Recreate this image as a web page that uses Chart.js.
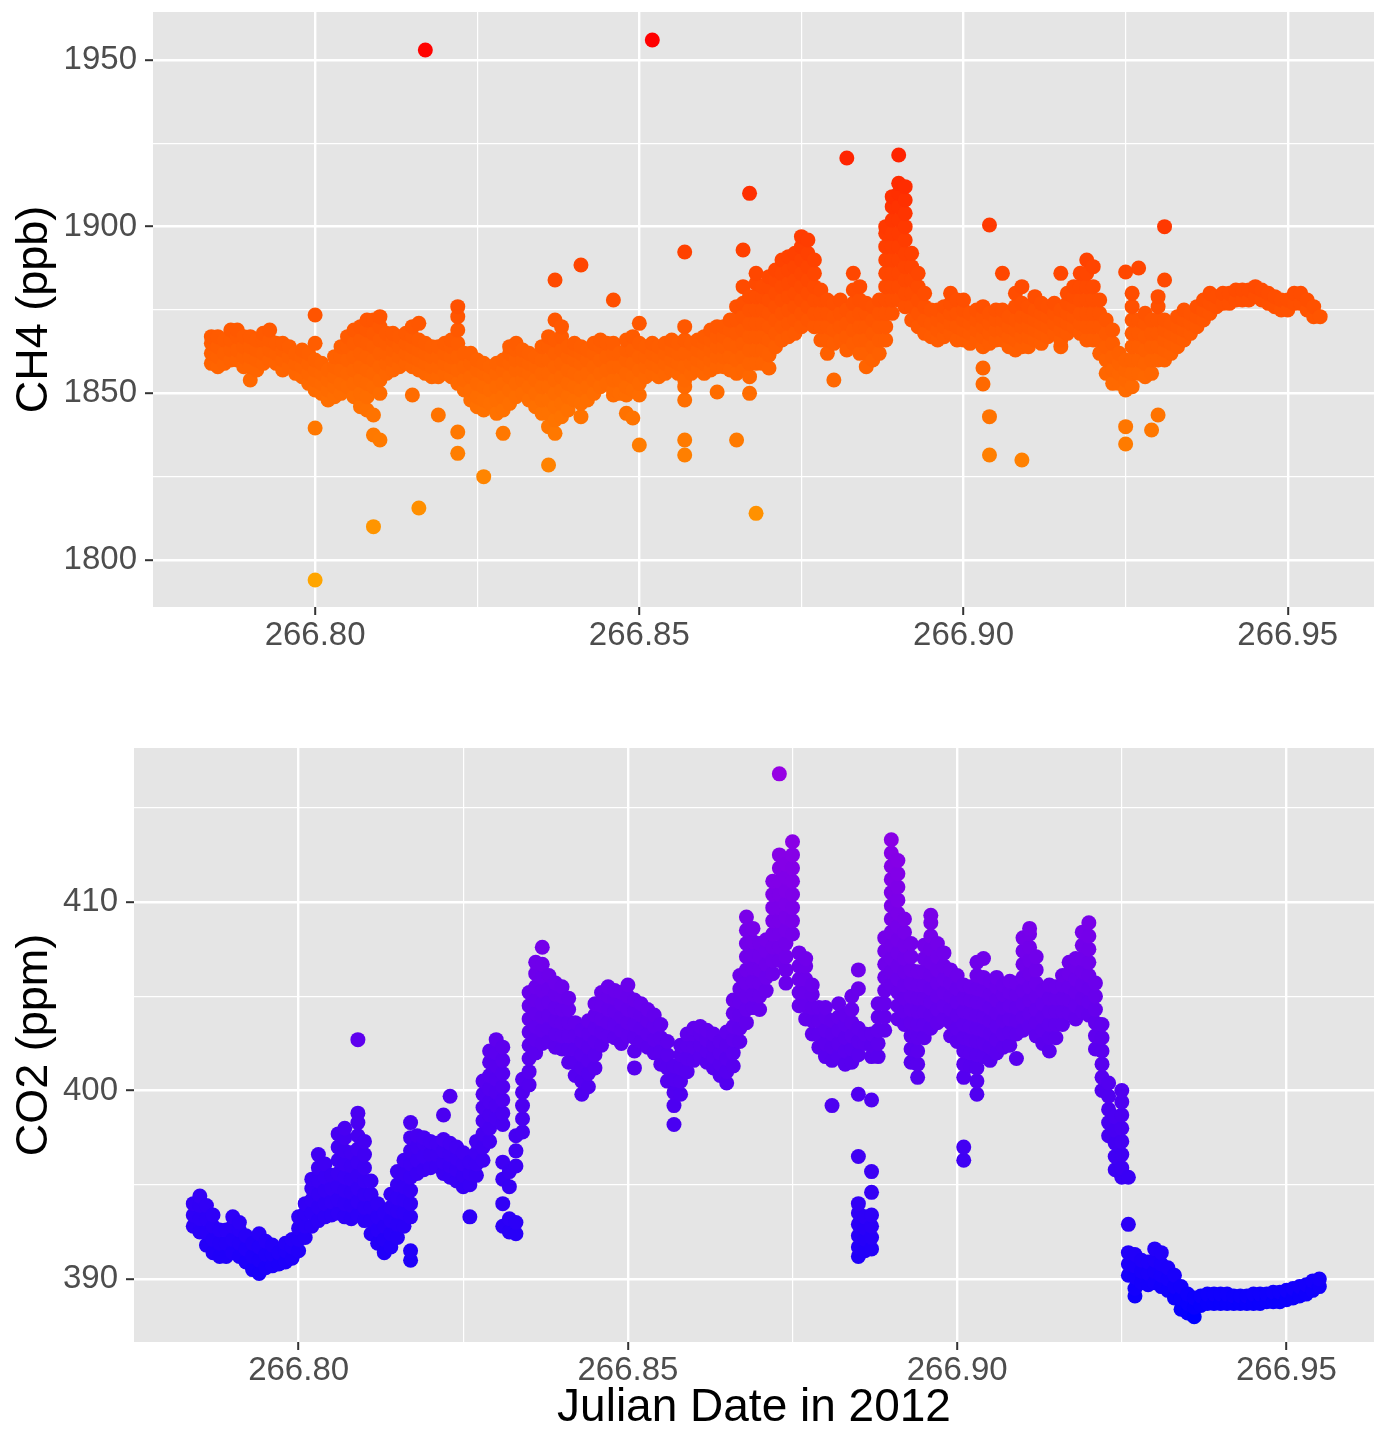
<!DOCTYPE html>
<html>
<head>
<meta charset="utf-8">
<title>CH4 and CO2 vs Julian date</title>
<script src="https://cdn.jsdelivr.net/npm/chart.js@4.4.1/dist/chart.umd.min.js"></script>
<style>
  html, body { margin: 0; padding: 0; background: #ffffff; overflow: hidden; }
  canvas { position: absolute; left: 0; display: block; }
  #ch4Chart { top: 0; }
  #co2Chart { top: 715px; }
</style>
</head>
<body>
<canvas id="ch4Chart" width="1374" height="715"></canvas>
<canvas id="co2Chart" width="1374" height="716"></canvas>
<script>
// sample times (shared by both gases)
var julianDay = [
  266.784, 266.785, 266.786, 266.787, 266.788, 266.789, 266.790, 266.791, 266.792, 266.793,
  266.794, 266.795, 266.796, 266.797, 266.798, 266.799, 266.800, 266.801, 266.802, 266.803,
  266.804, 266.805, 266.806, 266.807, 266.808, 266.809, 266.810, 266.811, 266.812, 266.813,
  266.814, 266.815, 266.816, 266.817, 266.818, 266.819, 266.820, 266.821, 266.822, 266.823,
  266.824, 266.825, 266.826, 266.827, 266.828, 266.829, 266.830, 266.831, 266.832, 266.833,
  266.834, 266.835, 266.836, 266.837, 266.838, 266.839, 266.840, 266.841, 266.842, 266.843,
  266.844, 266.845, 266.846, 266.847, 266.848, 266.849, 266.850, 266.851, 266.852, 266.853,
  266.854, 266.855, 266.856, 266.857, 266.858, 266.859, 266.860, 266.861, 266.862, 266.863,
  266.864, 266.865, 266.866, 266.867, 266.868, 266.869, 266.870, 266.871, 266.872, 266.873,
  266.874, 266.875, 266.876, 266.877, 266.878, 266.879, 266.880, 266.881, 266.882, 266.883,
  266.884, 266.885, 266.886, 266.887, 266.888, 266.889, 266.890, 266.891, 266.892, 266.893,
  266.894, 266.895, 266.896, 266.897, 266.898, 266.899, 266.900, 266.901, 266.902, 266.903,
  266.904, 266.905, 266.906, 266.907, 266.908, 266.909, 266.910, 266.911, 266.912, 266.913,
  266.914, 266.915, 266.916, 266.917, 266.918, 266.919, 266.920, 266.921, 266.922, 266.923,
  266.924, 266.925, 266.926, 266.927, 266.928, 266.929, 266.930, 266.931, 266.932, 266.933,
  266.934, 266.935, 266.936, 266.937, 266.938, 266.939, 266.940, 266.941, 266.942, 266.943,
  266.944, 266.945, 266.946, 266.947, 266.948, 266.949, 266.950, 266.951, 266.952, 266.953,
  266.954, 266.955
];

// CH4 readings (ppb) at each time above
var ch4Ppb = [
  /* .784 */ [1859,1862,1865,1867], [1858,1861,1864,1867], [1859,1862,1866], [1860,1863,1866,1869], [1860,1863,1867,1869],
  /* .789 */ [1858,1861,1864,1867], [1854,1858,1861,1864,1867], [1857,1860,1863,1866], [1859,1862,1866,1868], [1860,1863,1866,1869],
  /* .794 */ [1859,1862,1865], [1857,1860,1863,1865], [1858,1861,1864], [1856,1859,1862], [1855,1858,1861,1863],
  /* .799 */ [1853,1856,1859,1862], [1794,1839.6,1851,1854,1857,1860,1865,1873.5], [1850,1853,1856,1859], [1848,1851,1854,1857], [1849,1852,1855,1858,1861],
  /* .804 */ [1850,1853,1857,1861,1864], [1852,1856,1860,1864,1867], [1849,1853,1857,1861,1865,1869], [1846,1850,1854,1858,1862,1866,1870], [1845,1849,1853,1857,1861,1865,1869,1872],
  /* .809 */ [1810,1837.5,1843.5,1852,1856,1860,1864,1868,1872], [1836,1850,1854,1858,1862,1866,1870,1873], [1856,1859,1862,1865,1868], [1857,1860,1863,1866,1868], [1858,1861,1864,1867],
  /* .814 */ [1859,1862,1865,1868], [1849.5,1858,1861,1864,1867,1870], [1815.6,1857,1860,1863,1866,1871], [1856,1859,1862,1865,1953], [1855,1858,1861,1864],
  /* .819 */ [1843.5,1855,1858,1861,1864], [1856,1859,1862,1865], [1855,1858,1861,1864,1866], [1832,1838.4,1853,1857,1861,1865,1869,1873,1876], [1851,1854,1858,1862],
  /* .824 */ [1848,1851,1855,1859,1862], [1846,1849,1853,1857,1860], [1825,1845,1848,1852,1856,1859], [1847,1851,1855,1858], [1844,1848,1852,1856,1859],
  /* .829 */ [1838,1845,1849,1853,1857,1860], [1847,1851,1855,1859,1862,1864], [1849,1853,1857,1860,1863,1865], [1850,1854,1857,1860,1863], [1848,1852,1856,1859,1862],
  /* .834 */ [1846,1850,1854,1858,1861], [1844,1848,1852,1856,1860,1864], [1828.5,1840,1844,1848,1852,1856,1860,1864,1867], [1838,1842,1846,1850,1854,1858,1862,1866,1872,1884], [1843,1847,1851,1855,1859,1863,1867,1870],
  /* .839 */ [1845,1849,1853,1857,1861,1864], [1848,1852,1856,1860,1863,1865], [1843,1847,1851,1855,1859,1862,1864,1888.5], [1848,1852,1856,1860,1863], [1850,1854,1858,1862,1865],
  /* .844 */ [1852,1856,1860,1864,1866], [1853,1857,1861,1865], [1849.5,1851,1854,1858,1862,1865,1878], [1850,1854,1858,1862], [1844,1849.5,1852,1856,1860,1863,1866],
  /* .849 */ [1842.6,1851,1855,1859,1863,1867], [1834.5,1849.5,1853,1857,1861,1865,1871], [1855,1858,1861,1864], [1856,1859,1862,1865,1956], [1855,1858,1861,1864],
  /* .854 */ [1856,1859,1862,1865], [1857,1860,1863,1866], [1856,1859,1862,1865], [1831.5,1836,1848,1852,1854,1858,1862,1866,1870,1892.4], [1856,1859,1862,1865],
  /* .859 */ [1857,1860,1863,1866], [1856,1859,1862,1865,1867], [1857,1860,1863,1866,1869], [1850.4,1858,1861,1864,1867,1870], [1858,1861,1864,1867,1870],
  /* .864 */ [1857,1861,1865,1869,1872], [1836,1856,1860,1864,1868,1872,1876], [1857,1861,1865,1869,1873,1877,1882,1893], [1850,1855,1859,1863,1867,1871,1875,1879,1910], [1814,1859,1863,1867,1871,1875,1879,1883,1886],
  /* .869 */ [1859,1863,1867,1871,1875,1879,1882], [1857.6,1861.5,1862,1866,1870,1874,1878,1882,1885], [1864,1868,1872,1876,1880,1884,1887], [1866,1870,1874,1878,1882,1886,1890], [1867,1871,1875,1879,1883,1887,1891],
  /* .874 */ [1868,1872,1876,1880,1884,1888,1892], [1870,1874,1878,1882,1886,1890,1894,1897], [1872,1876,1880,1884,1888,1892,1896], [1870,1874,1878,1882,1886,1890], [1866,1870,1874,1878,1881],
  /* .879 */ [1862,1866,1870,1874,1878], [1854,1865,1869,1873,1877], [1866,1870,1874,1878], [1863,1867,1871,1875,1920.6], [1865,1869,1873,1877,1881,1886],
  /* .884 */ [1862,1866,1870,1874,1878,1882], [1858,1862,1866,1870,1874,1877], [1860,1864,1868,1872,1876], [1862,1866,1870,1874,1878], [1866,1870,1874,1878,1882,1886,1890,1894,1898,1900],
  /* .889 */ [1874,1878,1882,1886,1890,1894,1898,1902,1906,1909], [1878,1882,1886,1890,1894,1898,1902,1906,1910,1913,1921.5], [1876,1880,1884,1888,1892,1896,1900,1904,1908,1912], [1872,1876,1880,1884,1888,1892], [1870,1874,1878,1882,1886],
  /* .894 */ [1868,1872,1876,1880], [1867,1871,1875], [1866,1869,1872,1875], [1867,1870,1873,1876], [1868,1871,1874,1877,1880],
  /* .899 */ [1866,1870,1874,1878], [1866,1869,1872,1875,1878], [1865,1868,1871,1874], [1866,1869,1872,1875], [1852.8,1857.6,1864,1867,1870,1873,1876],
  /* .904 */ [1831.5,1843,1865,1868,1871,1874,1900.5], [1866,1869,1872,1875], [1866,1869,1872,1875,1886], [1864,1867,1870,1873], [1863,1866,1869,1872,1876,1880],
  /* .909 */ [1830,1864,1867,1870,1873,1877,1882], [1864,1867,1870,1873,1876], [1866,1869,1872,1875,1879], [1865,1868,1871,1874,1877], [1867,1870,1873,1876],
  /* .914 */ [1868,1871,1874,1877], [1864,1866,1869,1872,1875,1886], [1868,1871,1874,1877,1880], [1870,1873,1876,1879,1882], [1868,1871,1874,1878,1882,1886],
  /* .919 */ [1866,1870,1874,1878,1882,1886,1890], [1866,1870,1874,1878,1882,1888], [1862,1866,1870,1874,1878], [1856,1860,1864,1868,1872], [1853,1857,1861,1865,1869],
  /* .924 */ [1853,1856,1859,1862], [1834.8,1840,1851,1854,1857,1860,1886.4], [1852,1856,1860,1864,1868,1872,1876,1880], [1856,1860,1864,1868,1872,1887.6], [1855,1859,1863,1867,1871,1874],
  /* .929 */ [1839,1856,1860,1864,1868,1872], [1843.5,1860,1864,1868,1872,1876,1879], [1860,1863,1866,1869,1872,1884,1900], [1862,1865,1868,1871], [1864,1867,1870,1873],
  /* .934 */ [1866,1869,1872,1875], [1868,1871,1874], [1870,1873,1876], [1872,1875,1878], [1874,1877,1880],
  /* .939 */ [1876,1879], [1877,1880], [1877,1880], [1878,1881], [1878,1881],
  /* .944 */ [1878,1881], [1879,1882], [1878,1881], [1877,1880], [1876,1879],
  /* .949 */ [1875,1878], [1875,1878], [1877,1880], [1877,1880], [1875,1878],
  /* .954 */ [1873,1876], [1873]
];

// CO2 readings (ppm) at each time above
var co2Ppm = [
  /* .784 */ [392.8,393.4,394.0], [392.5,393.2,393.9,394.4], [391.8,392.5,393.2,393.9], [391.4,392.1,392.8,393.4], [391.2,391.9,392.6],
  /* .789 */ [391.2,391.9,392.6], [391.4,392.1,392.8,393.3], [391.2,391.9,392.6,393.0], [390.9,391.6,392.3], [390.5,391.2,391.9],
  /* .794 */ [390.3,391.0,391.7,392.4], [390.6,391.3,392.0], [390.7,391.3,391.8], [390.8,391.4], [390.9,391.5,391.9],
  /* .799 */ [391.1,391.7,392.1], [391.5,392.1,392.7,393.3], [392.2,392.8,393.5,394.0], [392.8,393.5,394.2,394.8,395.3], [393.1,393.8,394.5,395.2,395.9,396.6],
  /* .804 */ [393.3,394.0,394.7,395.4,396.1], [393.4,394.1,394.8,395.5], [393.5,394.2,394.9,395.6,396.3,397.0,397.7], [393.3,394.0,394.7,395.4,396.1,396.8,397.5,398.0], [393.2,393.9,394.6,395.3,396.0,396.7],
  /* .809 */ [393.4,394.1,394.8,395.5,396.2,396.9,397.6,398.3,398.8,402.7], [393.1,393.8,394.5,395.2,395.9,396.6,397.3], [392.4,393.1,393.8,394.5,395.2], [391.9,392.6,393.3,394.0], [391.4,392.1,392.8,393.5],
  /* .814 */ [391.7,392.4,393.1,393.8,394.5], [392.2,392.9,393.6,394.3,395.0,395.7], [392.8,393.5,394.2,394.9,395.6,396.3], [391.0,391.5,393.3,394.0,394.7,395.4,396.1,396.8,397.5,398.3], [395.6,396.3,397.0,397.6],
  /* .819 */ [395.8,396.5,397.2,397.5], [395.9,396.6,397.3], [396.0,396.6,397.2], [395.6,396.2,396.8,397.4,398.7], [395.4,396.0,396.6,397.2,399.7],
  /* .824 */ [395.2,395.8,396.4,397.0], [394.9,395.5,396.1,396.7], [393.3,395.0,395.6,396.2], [395.5,396.1,396.7,397.3], [396.3,397.0,397.7,398.4,399.1,399.8,400.5],
  /* .829 */ [397.3,398.0,398.7,399.4,400.1,400.8,401.5,402.1], [398.5,399.2,399.9,400.6,401.3,402.0,402.7], [392.8,394.0,395.3,396.2,398.2,398.8,399.5,400.2,400.9,401.6,402.3], [392.5,393.2,394.9,395.7], [392.4,393.0,396.0,396.8,397.6],
  /* .834 */ [397.8,398.5,399.2,399.9,400.6], [400.3,401.0,401.7,402.4,403.1,403.8,404.5,405.2], [402.0,402.7,403.4,404.1,404.8,405.5,406.2,406.8], [402.5,403.2,403.9,404.6,405.3,406.0,406.7,407.6], [402.6,403.3,404.0,404.7,405.4,406.1],
  /* .839 */ [402.3,403.0,403.7,404.4,405.1,405.7], [402.2,402.9,403.6,404.3,405.0,405.5], [401.5,402.2,402.9,403.6,404.3,404.9], [400.8,401.5,402.2,402.9,403.6], [399.8,400.5,401.2,401.9,402.6,403.2],
  /* .844 */ [400.2,400.9,401.6,402.3,403.0,403.7], [401.2,401.9,402.6,403.3,404.0,404.6], [402.4,403.1,403.8,404.5,405.2], [402.9,403.6,404.3,405.0,405.5], [402.8,403.5,404.2,404.9,405.3],
  /* .849 */ [402.5,403.2,403.9,404.6,405.2], [402.9,403.6,404.3,405.0,405.6], [401.2,402.1,402.8,403.5,404.2,404.8], [402.6,403.3,404.0,404.6], [402.3,403.0,403.7,404.3],
  /* .854 */ [402.0,402.7,403.4,404.0], [401.4,402.1,402.8,403.5], [400.5,401.2,401.9,402.6], [398.2,399.2,399.9,400.6,401.3], [399.8,400.5,401.2,401.9,402.4],
  /* .859 */ [401.0,401.7,402.4,403.0], [401.6,402.3,403.0,403.3], [401.8,402.4,403.0,403.4], [401.5,402.1,402.7,403.2], [401.2,401.8,402.4,403.0],
  /* .864 */ [400.8,401.4,402.0,402.6], [400.4,401.0,401.7,402.4,403.1], [401.3,402.0,402.7,403.4,404.1,404.8], [402.6,403.3,404.0,404.7,405.4,406.1], [403.6,404.3,405.0,405.7,406.4,407.1,407.8,408.5,409.2],
  /* .869 */ [404.4,405.1,405.8,406.5,407.2,407.9,408.6], [404.3,405.0,405.7,406.4,407.1,407.8], [405.3,406.0,406.7,407.4,408.0], [406.2,406.9,407.6,408.3,409.0,409.7,410.4,411.1], [406.9,407.6,408.3,409.0,409.7,410.4,411.1,411.8,412.5,416.8],
  /* .874 */ [405.7,406.4,407.1,407.8,408.5,409.2,409.9,410.6,411.3,412.0], [408.3,409.0,409.7,410.4,411.1,411.8,412.5,413.2], [404.5,405.2,405.9,406.6,407.3], [403.8,404.5,405.2,405.9,406.6,407.0], [403.0,403.7,404.4,405.1,405.6],
  /* .879 */ [402.3,403.0,403.7,404.4], [401.8,402.5,403.2,403.9,404.4], [399.2,401.6,402.3,403.0,403.7], [401.8,402.5,403.2,403.9,404.6], [401.4,402.1,402.8,403.5,404.0],
  /* .884 */ [401.5,402.2,402.9,403.6,404.3,405.0], [391.2,391.7,392.3,392.9,393.5,394.0,396.5,399.8,401.9,402.6,403.3,405.4,406.4], [391.5,392.1,392.7,393.3,402.5,403.0], [391.6,392.2,392.8,393.4,394.6,395.7,399.5,401.8,402.4,403.0], [401.8,402.5,403.2,403.9,404.6],
  /* .889 */ [403.2,403.9,404.6,405.3,406.0,406.7,407.4,408.1], [405.6,406.3,407.0,407.7,408.4,409.1,409.8,410.5,411.2,411.9,412.6,413.3], [403.8,404.5,405.2,405.9,406.6,407.3,408.0,408.7,409.4,410.1,410.8,411.5,412.2], [403.5,404.2,404.9,405.6,406.3,407.0,407.7,408.4,409.1], [401.5,402.2,402.9,403.6,404.3,405.0,405.7,406.4,407.1,407.8],
  /* .894 */ [400.7,401.4,402.1,402.8,403.5,404.2,404.9,405.6,406.3], [402.8,403.5,404.2,404.9,405.6,406.3,407.0,407.7], [403.3,404.0,404.7,405.4,406.1,406.8,407.5,408.2,408.9,409.3], [403.6,404.3,405.0,405.7,406.4,407.1,407.8], [403.8,404.5,405.2,405.9,406.6,407.3],
  /* .899 */ [402.9,403.6,404.3,405.0,405.7,406.4], [402.6,403.3,404.0,404.7,405.4,406.1], [396.3,397.0,400.7,401.4,402.1,402.8,403.5,404.2,404.9,405.6], [401.3,402.0,402.7,403.4,404.1,404.8,405.5], [399.8,400.5,401.2,401.9,402.6,403.3,404.0,404.7,405.4,406.1,406.8],
  /* .904 */ [401.8,402.5,403.2,403.9,404.6,405.3,406.0,407.0], [401.6,402.3,403.0,403.7,404.4,405.1,405.8], [402.0,402.7,403.4,404.1,404.8,405.5,406.0], [402.3,403.0,403.7,404.4,405.1,405.6], [402.4,403.1,403.8,404.5,405.2,405.8],
  /* .909 */ [401.7,403.0,403.7,404.4,405.1,405.7], [403.2,403.9,404.6,405.3,406.0,406.7,407.4,408.1], [403.4,404.1,404.8,405.5,406.2,406.9,407.6,408.3,408.6], [402.9,403.6,404.3,405.0,405.7,406.4,407.1], [402.5,403.2,403.9,404.6,405.3],
  /* .914 */ [402.1,402.8,403.5,404.2,404.9,405.6], [402.8,403.5,404.2,404.9,405.5], [403.5,404.2,404.9,405.6,406.1], [404.1,404.8,405.5,406.2,406.8], [403.8,404.5,405.2,405.9,406.6,407.0],
  /* .919 */ [404.2,404.9,405.6,406.3,407.0,407.7,408.4], [404.0,404.7,405.4,406.1,406.8,407.5,408.2,408.9], [402.2,402.9,403.6,404.3,405.0,405.7], [400.0,400.7,401.4,402.1,402.8,403.5], [397.6,398.3,399.0,399.7,400.4],
  /* .924 */ [395.8,396.5,397.2,397.9,398.6], [395.4,395.9,396.6,397.3,398.0,398.7,399.4,400.0], [390.2,390.8,391.4,392.9,395.4], [389.1,389.5,390.1,390.7,391.3], [389.8,390.4,391.0],
  /* .929 */ [389.7,390.3,390.9], [389.8,390.4,391.0,391.6], [389.6,390.2,390.8,391.4], [389.4,390.0,390.6], [389.0,389.6,390.2],
  /* .934 */ [388.4,389.0,389.6], [388.2,388.7,389.2], [388.0,388.5,389.0], [388.6,389.1], [388.7,389.2],
  /* .939 */ [388.7,389.2], [388.7,389.2], [388.7,389.2], [388.7,389.1], [388.7,389.1],
  /* .944 */ [388.7,389.1], [388.7,389.2], [388.7,389.2], [388.8,389.2], [388.8,389.3],
  /* .949 */ [388.8,389.3], [388.9,389.4], [389.0,389.5], [389.1,389.6], [389.2,389.7],
  /* .954 */ [389.4,389.9], [389.6,390.0]
];

// axis breaks
var dayTicks = [266.80, 266.85, 266.90, 266.95];
var dayMinor = [266.825, 266.875, 266.925];
var ch4Ticks = [1800, 1850, 1900, 1950];
var ch4Minor = [1825, 1875, 1925];
var co2Ticks = [390, 400, 410];
var co2Minor = [395, 405, 415];

var FONT = '"Liberation Sans", Arial, Helvetica, sans-serif';

function toPoints(rows) {
  var pts = [];
  julianDay.forEach(function (day, i) {
    (rows[i] || []).forEach(function (v) { pts.push({ x: day, y: v }); });
  });
  return pts;
}

// continuous colour scale from lowest to highest reading
function colourBy(rows, lo, hi, bend) {
  var all = [].concat.apply([], rows);
  var min = Math.min.apply(null, all), max = Math.max.apply(null, all);
  return function (ctx) {
    var t = ctx.raw ? (ctx.raw.y - min) / (max - min) : 0;
    t = Math.pow(Math.max(0, Math.min(1, t)), bend);
    var c = lo.map(function (l, k) { return Math.round(l + (hi[k] - l) * t); });
    return 'rgb(' + c.join(',') + ')';
  };
}

function isMajor(list, v) {
  return list.some(function (m) { return Math.abs(m - v) < 1e-9; });
}

function tickList(major, minor) {
  return major.concat(minor).sort(function (a, b) { return a - b; })
    .map(function (v) { return { value: v }; });
}

function gridFor(major) {
  return {
    color: '#FFFFFF',
    lineWidth: function (c) { return c.tick && isMajor(major, c.tick.value) ? 2.4 : 1.2; },
    tickLength: 8,
    tickWidth: 2,
    tickColor: function (c) { return c.tick && isMajor(major, c.tick.value) ? '#333333' : 'rgba(0,0,0,0)'; }
  };
}

// grey panel behind the grid
var panelBg = {
  id: 'panelBg',
  beforeDraw: function (chart) {
    var a = chart.chartArea, c = chart.ctx;
    c.save();
    c.fillStyle = '#E5E5E5';
    c.fillRect(a.left, a.top, a.right - a.left, a.bottom - a.top);
    c.restore();
  }
};

function buildChart(id, rows, cfg) {
  return new Chart(document.getElementById(id), {
    type: 'scatter',
    data: {
      datasets: [{
        data: toPoints(rows),
        pointRadius: 7.5,
        pointHoverRadius: 7.5,
        pointBorderWidth: 0,
        pointBackgroundColor: cfg.colour
      }]
    },
    options: {
      responsive: false,
      animation: false,
      devicePixelRatio: 1,
      layout: { autoPadding: false, padding: { top: cfg.padTop, left: 0, right: 0, bottom: 0 } },
      plugins: { legend: { display: false }, tooltip: { enabled: false } },
      scales: {
        x: {
          type: 'linear', position: 'bottom',
          min: 266.775, max: 266.9633,
          border: { display: false },
          grid: gridFor(dayTicks),
          afterBuildTicks: function (s) { s.ticks = tickList(dayTicks, dayMinor); },
          afterFit: function (s) { s.height = cfg.xHeight; s.paddingLeft = 0; s.paddingRight = 0; },
          ticks: {
            autoSkip: false, maxRotation: 0, padding: 1, color: '#4D4D4D',
            font: { family: FONT, size: 33 },
            callback: function (v) { return isMajor(dayTicks, v) ? v.toFixed(2) : ''; }
          },
          title: {
            display: !!cfg.xTitle, text: cfg.xTitle || '', color: '#000000',
            font: { family: FONT, size: 46, lineHeight: 1 }, padding: { top: 0, bottom: 0 }
          }
        },
        y: {
          type: 'linear', position: 'left',
          min: cfg.yMin, max: cfg.yMax,
          border: { display: false },
          grid: gridFor(cfg.yTicks),
          afterBuildTicks: function (s) { s.ticks = tickList(cfg.yTicks, cfg.yMinor); },
          afterFit: function (s) { s.width = cfg.yWidth; s.paddingTop = 0; s.paddingBottom = 0; },
          ticks: {
            autoSkip: false, padding: 8, color: '#4D4D4D',
            font: { family: FONT, size: 33 },
            callback: function (v) { return isMajor(cfg.yTicks, v) ? String(v) : ''; }
          },
          title: {
            display: true, text: cfg.yTitle, color: '#000000',
            font: { family: FONT, size: 45, lineHeight: 1.2 }, padding: { top: 8, bottom: 0 }
          }
        }
      }
    },
    plugins: [panelBg]
  });
}

buildChart('ch4Chart', ch4Ppb, {
  padTop: 12, xHeight: 108, yWidth: 153,
  yMin: 1785.9, yMax: 1964.4, yTicks: ch4Ticks, yMinor: ch4Minor,
  yTitle: 'CH4 (ppb)',
  colour: colourBy(ch4Ppb, [255, 165, 0], [255, 0, 0], 1)
});

buildChart('co2Chart', co2Ppm, {
  padTop: 33, xHeight: 89, yWidth: 134,
  yMin: 386.66, yMax: 418.17, yTicks: co2Ticks, yMinor: co2Minor,
  yTitle: 'CO2 (ppm)', xTitle: 'Julian Date in 2012',
  colour: colourBy(co2Ppm, [0, 0, 255], [150, 0, 228], 0.7)
});
</script>
</body>
</html>
